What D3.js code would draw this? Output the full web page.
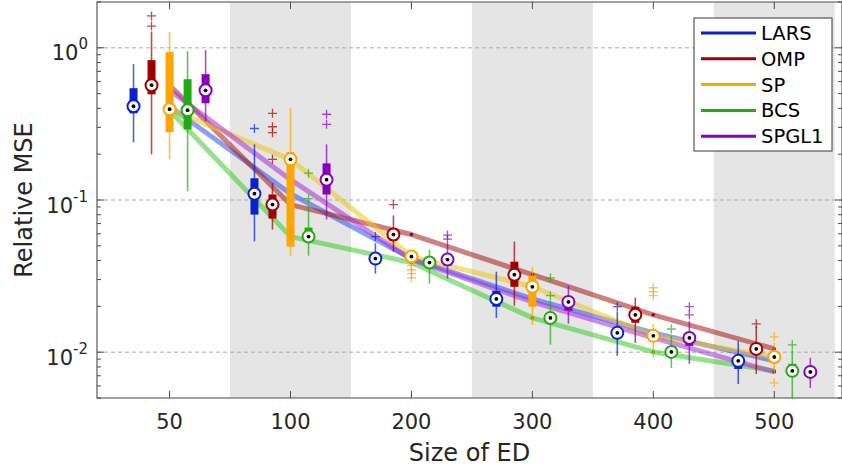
<!DOCTYPE html>
<html>
<head>
<meta charset="utf-8">
<script src="https://cdn.jsdelivr.net/npm/d3@7"></script>
<style>
  html, body { margin: 0; padding: 0; background: #fff; }
  svg { display: block; font-family: "DejaVu Sans", sans-serif; }
</style>
</head>
<body>
<svg id="chart" width="842" height="468"></svg>
<script>
// ---------------- data ----------------
const categories = ["50", "100", "200", "300", "400", "500"];
const seriesNames = ["LARS", "OMP", "SP", "BCS", "SPGL1"];
const seriesColors = ["#0a22cc", "#a00000", "#ffa500", "#22aa12", "#8800bb"];
const trendColors = ["#2f4fee", "#a81818", "#eec41a", "#3ccc2a", "#a830d8"];
const yTickValues = [0.01, 0.1, 1];
const yTickExponents = ["-2", "-1", "0"];
const shadedCategories = ["100", "300", "500"];

// per series, per category: lower whisker, q1, median, q3, upper whisker
const larsLo  = [0.239, 0.0535, 0.0328, 0.0168, 0.00946, 0.00618];
const larsQ1  = [0.371, 0.0802, 0.0382, 0.0199, 0.0124, 0.00776];
const larsMed = [0.413, 0.110, 0.0412, 0.0224, 0.0134, 0.00877];
const larsQ3  = [0.543, 0.139, 0.0444, 0.0253, 0.0142, 0.00918];
const larsHi  = [0.781, 0.232, 0.052, 0.0338, 0.0185, 0.01186];
const larsOut = [[], [0.295], [0.0575], [], [0.0199], []];

const ompLo  = [0.1995, 0.0639, 0.0457, 0.0202, 0.0115, 0.00719];
const ompQ1  = [0.495, 0.0755, 0.0541, 0.0269, 0.0156, 0.00989];
const ompMed = [0.568, 0.0933, 0.0593, 0.0323, 0.0176, 0.01051];
const ompQ3  = [0.830, 0.1087, 0.0649, 0.0393, 0.0199, 0.01133];
const ompHi  = [1.28, 0.130, 0.0791, 0.0533, 0.0228, 0.0147];
const ompOut = [[1.62, 1.39], [0.371, 0.303, 0.277, 0.185], [0.0933], [], [], [0.01535]];

const spLo  = [0.185, 0.0431, 0.0388, 0.0151, 0.00918, 0.00719];
const spQ1  = [0.279, 0.0494, 0.0406, 0.0199, 0.01205, 0.00877];
const spMed = [0.395, 0.185, 0.0425, 0.0269, 0.0128, 0.0093];
const spQ3  = [0.937, 0.206, 0.0444, 0.0318, 0.0136, 0.0099];
const spHi  = [1.27, 0.401, 0.0451, 0.0365, 0.01535, 0.0115];
const spOut = [[], [], [0.0370, 0.0348, 0.0328, 0.0308], [], [0.0265, 0.0250, 0.0235], [0.01262, 0.00628]];

const bcsLo  = [0.114, 0.0431, 0.0282, 0.0112, 0.00788, 0.0045];
const bcsQ1  = [0.291, 0.0533, 0.0365, 0.0161, 0.0096, 0.00719];
const bcsMed = [0.389, 0.0575, 0.0388, 0.0168, 0.01004, 0.00754];
const bcsQ3  = [0.622, 0.0659, 0.0406, 0.0179, 0.01067, 0.00838];
const bcsHi  = [0.951, 0.092, 0.0472, 0.0218, 0.0128, 0.01035];
const bcsOut = [[], [0.150, 0.102], [], [0.0308, 0.0235], [0.0142], [0.01117]];

const spglLo  = [0.329, 0.0745, 0.0304, 0.0154, 0.00838, 0.00582];
const spglQ1  = [0.432, 0.1087, 0.0370, 0.0187, 0.0110, 0.0071];
const spglMed = [0.526, 0.136, 0.0406, 0.0214, 0.0124, 0.00742];
const spglQ3  = [0.671, 0.174, 0.0431, 0.0228, 0.0132, 0.00776];
const spglHi  = [0.966, 0.232, 0.0517, 0.0273, 0.016, 0.00918];
const spglOut = [[], [0.366, 0.314], [0.0588, 0.0553], [], [0.0199, 0.0176], []];

const statsTable = [
  [larsLo, larsQ1, larsMed, larsQ3, larsHi, larsOut],
  [ompLo, ompQ1, ompMed, ompQ3, ompHi, ompOut],
  [spLo, spQ1, spMed, spQ3, spHi, spOut],
  [bcsLo, bcsQ1, bcsMed, bcsQ3, bcsHi, bcsOut],
  [spglLo, spglQ1, spglMed, spglQ3, spglHi, spglOut]
];

// ---------------- layout ----------------
const L = 97, R = 842, T = 2, B = 398;
const svg = d3.select("#chart");
const x = d3.scaleLinear().domain([0.4, 6.56]).range([L, R]);
const y = d3.scaleLog().domain([0.005, 2]).range([B, T]);
const boxOffset = 0.149;
const axisColor = "#4a4a4a";
const textColor = "#262626";

svg.append("defs").append("clipPath").attr("id", "plotclip")
  .append("rect").attr("x", L).attr("y", T).attr("width", R - L).attr("height", B - T);

const plot = svg.append("g").attr("clip-path", "url(#plotclip)");

// shaded bands
plot.selectAll("rect.band").data(shadedCategories).enter().append("rect")
  .attr("class", "band")
  .attr("x", d => x(categories.indexOf(d) + 1 - 0.5))
  .attr("width", d => x(categories.indexOf(d) + 1.5) - x(categories.indexOf(d) + 0.5))
  .attr("y", T).attr("height", B - T)
  .attr("fill", "#e5e5e5");

// grid
plot.selectAll("line.grid").data(yTickValues).enter().append("line")
  .attr("x1", L).attr("x2", R)
  .attr("y1", d => y(d)).attr("y2", d => y(d))
  .attr("stroke", "#ababab").attr("stroke-width", 1)
  .attr("stroke-dasharray", "4,3");

// median trend lines
const line = d3.line().x((d, i) => x(i + 1)).y(d => y(d));
statsTable.forEach((s, j) => {
  plot.append("path").datum(s[2])
    .attr("d", line)
    .attr("fill", "none")
    .attr("stroke", trendColors[j])
    .attr("stroke-opacity", 0.55)
    .attr("stroke-width", 5)
    .attr("stroke-linejoin", "round");
});
statsTable.forEach((s, j) => {
  plot.selectAll(null).data(s[2]).enter().append("circle")
    .attr("cx", (d, i) => x(i + 1)).attr("cy", d => y(d))
    .attr("r", 1.8).attr("fill", seriesColors[j]);
});

// boxes
statsTable.forEach((s, j) => {
  const col = seriesColors[j];
  const g = plot.append("g");
  categories.forEach((c, i) => {
    const cx = x(i + 1 + (j - 2) * boxOffset);
    // whisker
    g.append("line")
      .attr("x1", cx).attr("x2", cx)
      .attr("y1", y(s[0][i])).attr("y2", y(s[4][i]))
      .attr("stroke", col).attr("stroke-opacity", 0.7).attr("stroke-width", 1.6);
    // outliers
    s[5][i].forEach(v => {
      const py = y(v);
      g.append("path")
        .attr("d", `M${cx - 4.5},${py}H${cx + 4.5}M${cx},${py - 4.5}V${py + 4.5}`)
        .attr("stroke", col).attr("stroke-opacity", 0.7).attr("stroke-width", 1.3)
        .attr("fill", "none");
    });
    // box
    g.append("rect")
      .attr("x", cx - 4).attr("width", 8)
      .attr("y", y(s[3][i])).attr("height", y(s[1][i]) - y(s[3][i]))
      .attr("fill", col);
    // median marker
    g.append("circle")
      .attr("cx", cx).attr("cy", y(s[2][i])).attr("r", 6)
      .attr("fill", "#fff").attr("stroke", col).attr("stroke-width", 2);
    g.append("circle")
      .attr("cx", cx).attr("cy", y(s[2][i])).attr("r", 1.9)
      .attr("fill", "#000");
  });
});

// ---------------- axes ----------------
const axes = svg.append("g");
axes.append("path")
  .attr("d", `M${L},${T}H${R}V${B}H${L}Z`)
  .attr("fill", "none").attr("stroke", axisColor).attr("stroke-width", 1.1);

categories.forEach((c, i) => {
  const px = x(i + 1);
  axes.append("line").attr("x1", px).attr("x2", px).attr("y1", B).attr("y2", B - 7)
    .attr("stroke", axisColor);
  axes.append("line").attr("x1", px).attr("x2", px).attr("y1", T).attr("y2", T + 7)
    .attr("stroke", axisColor);
});
axes.selectAll("text.xt").data(categories).enter().append("text")
  .attr("x", (d, i) => x(i + 1)).attr("y", 429)
  .attr("text-anchor", "middle").attr("font-size", 21).attr("fill", textColor)
  .text(d => d);

const minorTicks = [];
[0.001, 0.01, 0.1, 1].forEach(dec => {
  for (let k = 2; k <= 9; k++) {
    const v = k * dec;
    if (v >= 0.005 && v <= 2) minorTicks.push(v);
  }
});
yTickValues.forEach(v => {
  const py = y(v);
  axes.append("line").attr("x1", L).attr("x2", L + 7).attr("y1", py).attr("y2", py).attr("stroke", axisColor);
  axes.append("line").attr("x1", R).attr("x2", R - 7).attr("y1", py).attr("y2", py).attr("stroke", axisColor);
});
minorTicks.forEach(v => {
  const py = y(v);
  axes.append("line").attr("x1", L).attr("x2", L + 4).attr("y1", py).attr("y2", py).attr("stroke", axisColor);
  axes.append("line").attr("x1", R).attr("x2", R - 4).attr("y1", py).attr("y2", py).attr("stroke", axisColor);
});
yTickValues.forEach((v, i) => {
  const t = axes.append("text")
    .attr("x", 88).attr("y", y(v) + 12.5)
    .attr("text-anchor", "end").attr("font-size", 21).attr("fill", textColor);
  t.append("tspan").text("10");
  t.append("tspan").attr("dy", -11).attr("font-size", 15).text(yTickExponents[i]);
});

axes.append("text")
  .attr("x", (L + R) / 2).attr("y", 461)
  .attr("text-anchor", "middle").attr("font-size", 24).attr("fill", textColor)
  .text("Size of ED");
axes.append("text")
  .attr("transform", `translate(32,${(T + B) / 2}) rotate(-90)`)
  .attr("text-anchor", "middle").attr("font-size", 24).attr("fill", textColor)
  .text("Relative MSE");

// ---------------- legend ----------------
const lg = svg.append("g");
lg.append("rect").attr("x", 694).attr("y", 18).attr("width", 138).attr("height", 133)
  .attr("fill", "#fff").attr("stroke", "#3a3a3a").attr("stroke-width", 1);
seriesNames.forEach((n, j) => {
  const ly = 33 + j * 25.8;
  lg.append("line").attr("x1", 701).attr("x2", 756).attr("y1", ly).attr("y2", ly)
    .attr("stroke", seriesColors[j]).attr("stroke-width", 3);
  lg.append("text").attr("x", 761).attr("y", ly + 7)
    .attr("font-size", 19.5).attr("fill", "#000").text(n);
});
</script>
</body>
</html>
